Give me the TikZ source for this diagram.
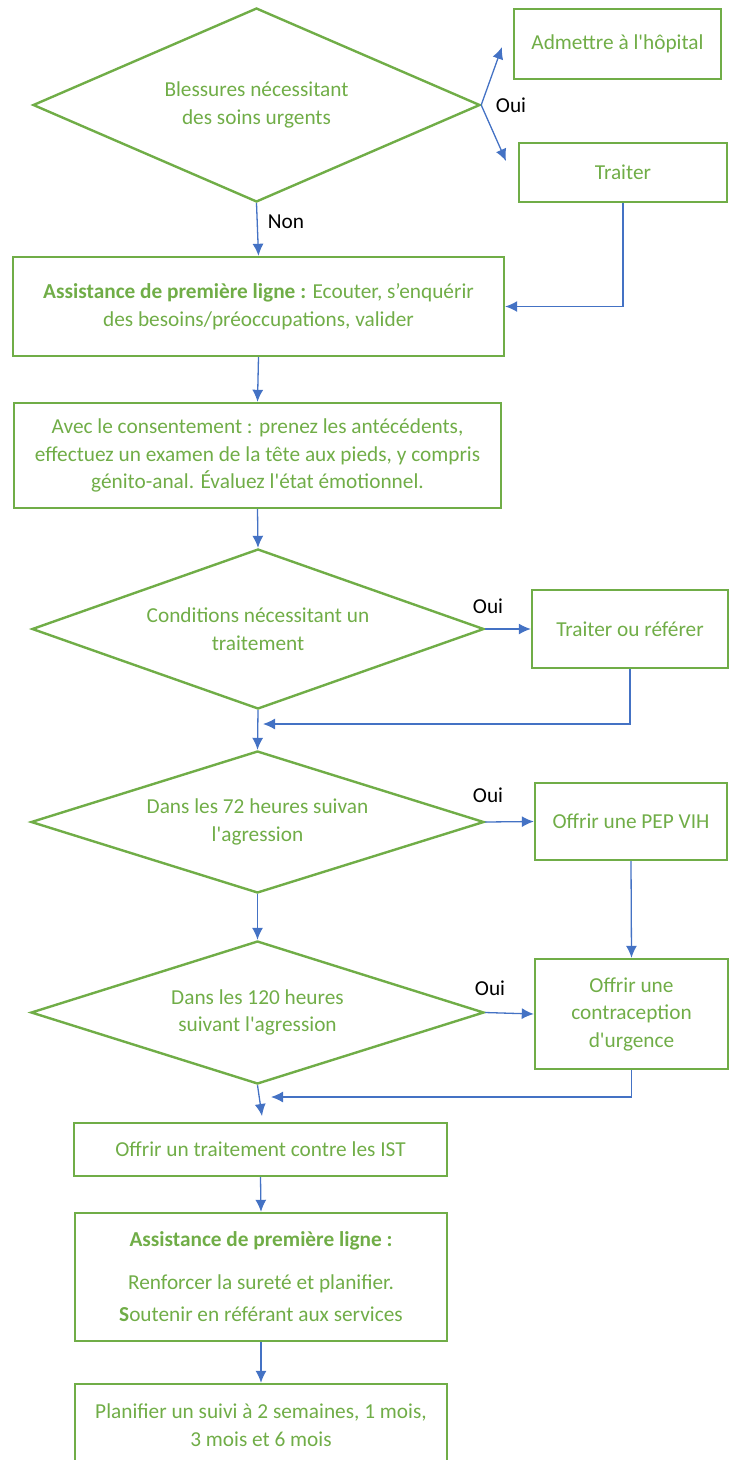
\documentclass[tikz,border=0pt]{standalone}
\usepackage{fontspec}
\setmainfont{Carlito}[Ligatures=TeXOff]
\usepackage{tikz}
\usetikzlibrary{shapes.geometric,arrows.meta}
\definecolor{boxgreen}{RGB}{112,173,71}
\definecolor{linkblue}{RGB}{68,114,196}

\begin{document}
\begin{tikzpicture}[x=1pt,y=-1pt, every node/.style={font=\fontsize{21.3}{27.5}\selectfont, inner sep=0pt},>={Latex[length=12pt,width=11pt]},
		box/.style={draw=boxgreen, line width=2.4pt, text=boxgreen, align=center},
		decision/.style={diamond, aspect=3, draw=boxgreen, line width=2.4pt, text=boxgreen, align=center},
		link/.style={draw=linkblue, line width=1.3pt}]
		\useasboundingbox (0,0) rectangle (737,1460);
		\clip (0,0) rectangle (737,1460);
		\node[decision, minimum width=447, minimum height=194] (urgent) at (256.5,105) {Blessures nécessitant\\des soins urgents};
		\node[box, minimum width=207, minimum height=70] (hopital) at (617.5,44) {Admettre à l'hôpital};
		\node[box, minimum width=208, minimum height=59] (traiter) at (623,172.5) {Traiter};
		\coordinate (okhop) at (502,47); \coordinate (oktra) at (506,161);
			\draw[link,->] (urgent.east) -- (okhop); \draw[link,->] (urgent.east) -- (oktra);
		\node (oui1) at (511,105) {Oui};
		\node[box, minimum width=491, minimum height=99] (ecoute) at (258.5,306.5) {\textbf{Assistance de première ligne :} Ecouter, s’enquérir\\des besoins/préoccupations, valider};
			\draw[link,->] (urgent.south) -- (ecoute.north); \draw[link,->] (traiter.south) |- (ecoute.east);
		\node (non) at (286,222) {Non};
		\node[box, minimum width=487, minimum height=105] (examen) at (257.5,455.5) {Avec le consentement : prenez les antécédents,\\effectuez un examen de la tête aux pieds, y compris\\génito-anal. Évaluez l'état émotionnel.};
			\draw[link,->] (ecoute.south) -- (examen.north);
		\node[decision, minimum width=452, minimum height=160] (cond) at (258,629) {Conditions nécessitant un\\traitement};
			\draw[link,->] (examen.south) -- (cond.north);
		\node[box, minimum width=196, minimum height=78] (referer) at (630,629) {Traiter ou référer};
			\draw[link,->] (cond.east) -- (referer.west);
		\node (oui2) at (488,606) {Oui};
		\node[decision, minimum width=453, minimum height=142] (hsept) at (257.5,822) {Dans les 72 heures suivan\\l'agression};
			\draw[link,->] (cond.south) -- (hsept.north);
		\coordinate (back1) at (263,724);
			\draw[link,->] (referer.south) |- (back1);
		\node[box, minimum width=192, minimum height=77] (pep) at (631,821.5) {Offrir une PEP VIH};
			\draw[link,->] (hsept.east) -- (pep.west);
		\node (oui3) at (488,795) {Oui};
		\node[decision, minimum width=453, minimum height=143] (hcent) at (257.5,1012.5) {Dans les 120 heures\\suivant l'agression};
			\draw[link,->] (hsept.south) -- (hcent.north);
		\node[box, minimum width=193, minimum height=110] (contra) at (631.5,1014) {Offrir une\\contraception\\d'urgence};
			\draw[link,->] (hcent.east) -- (contra.west); \draw[link,->] (pep.south) -- (contra.north);
		\node (oui4) at (490,988) {Oui};
		\coordinate (back2) at (271,1097); \coordinate (down1) at (262,1116);
			\draw[link,->] (contra.south) |- (back2); \draw[link,->] (hcent.south) -- (down1);
		\node[box, minimum width=373, minimum height=53] (ist) at (260.5,1149.5) {Offrir un traitement contre les IST};
		\node[box, minimum width=372, minimum height=128] (soutien) at (261,1277) {\textbf{Assistance de première ligne :}\\[15pt]Renforcer la sureté et planifier.\\[5pt]\textbf{S}outenir en référant aux services};
			\draw[link,->] (ist.south) -- (soutien.north);
		\node[box, minimum width=372, minimum height=82] (suivi) at (261,1425) {Planifier un suivi à 2 semaines, 1 mois,\\3 mois et 6 mois};
			\draw[link,->] (soutien.south) -- (suivi.north);
	\end{tikzpicture}
\end{document}
